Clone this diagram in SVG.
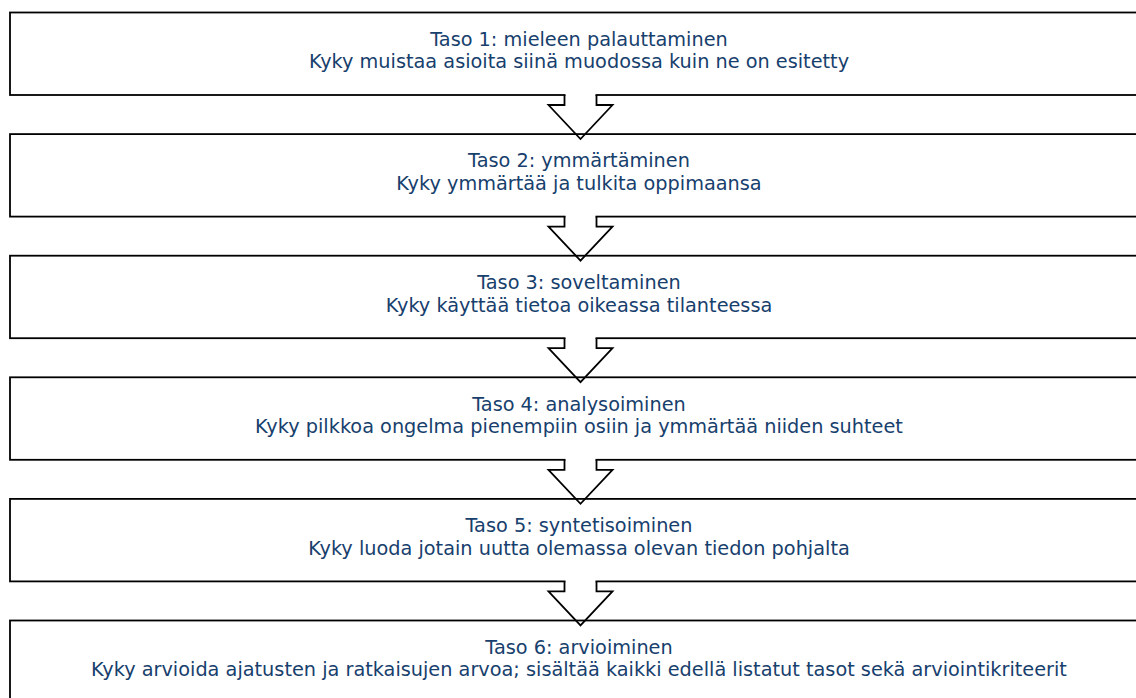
<svg xmlns="http://www.w3.org/2000/svg" width="1136" height="698" viewBox="0 0 1136 698">
<style>
.box{fill:none;stroke:#000;stroke-width:1.8}
.t{font-family:"DejaVu Sans",Verdana,sans-serif;font-size:19.3px;fill:#17406D;text-anchor:middle}
.ah{fill:#fff;stroke:none}
.ao{fill:none;stroke:#000;stroke-width:1.8;stroke-linejoin:miter}
</style>
<rect width="1136" height="698" fill="#fff"/>
<g id="n1"><rect class="box" x="10" y="12.5" width="1140" height="82.5"/><text class="t" x="579" y="45.7">Taso 1: mieleen palauttaminen</text><text class="t" x="579" y="68.3">Kyky muistaa asioita siinä muodossa kuin ne on esitetty</text></g>
<g id="n2"><rect class="box" x="10" y="134.1" width="1140" height="82.5"/><text class="t" x="579" y="167.3">Taso 2: ymmärtäminen</text><text class="t" x="579" y="189.9">Kyky ymmärtää ja tulkita oppimaansa</text></g>
<g id="n3"><rect class="box" x="10" y="255.7" width="1140" height="82.5"/><text class="t" x="579" y="288.9">Taso 3: soveltaminen</text><text class="t" x="579" y="311.5">Kyky käyttää tietoa oikeassa tilanteessa</text></g>
<g id="n4"><rect class="box" x="10" y="377.3" width="1140" height="82.5"/><text class="t" x="579" y="410.5">Taso 4: analysoiminen</text><text class="t" x="579" y="433.1">Kyky pilkkoa ongelma pienempiin osiin ja ymmärtää niiden suhteet</text></g>
<g id="n5"><rect class="box" x="10" y="498.9" width="1140" height="82.5"/><text class="t" x="579" y="532.1">Taso 5: syntetisoiminen</text><text class="t" x="579" y="554.7">Kyky luoda jotain uutta olemassa olevan tiedon pohjalta</text></g>
<g id="n6"><rect class="box" x="10" y="620.5" width="1140" height="82.5"/><text class="t" x="579" y="653.7">Taso 6: arvioiminen</text><text class="t" x="579" y="676.3">Kyky arvioida ajatusten ja ratkaisujen arvoa; sisältää kaikki edellä listatut tasot sekä arviointikriteerit</text></g>
<g id="connectors">
<g transform="translate(0,95)"><rect class="ah" x="565.5" y="-2" width="30" height="11"/><polyline class="ao" points="564.5,0 564.5,10 548.5,10 580.5,44 612.5,10 596.5,10 596.5,0"/></g>
<g transform="translate(0,216.6)"><rect class="ah" x="565.5" y="-2" width="30" height="11"/><polyline class="ao" points="564.5,0 564.5,10 548.5,10 580.5,44 612.5,10 596.5,10 596.5,0"/></g>
<g transform="translate(0,338.2)"><rect class="ah" x="565.5" y="-2" width="30" height="11"/><polyline class="ao" points="564.5,0 564.5,10 548.5,10 580.5,44 612.5,10 596.5,10 596.5,0"/></g>
<g transform="translate(0,459.8)"><rect class="ah" x="565.5" y="-2" width="30" height="11"/><polyline class="ao" points="564.5,0 564.5,10 548.5,10 580.5,44 612.5,10 596.5,10 596.5,0"/></g>
<g transform="translate(0,581.4)"><rect class="ah" x="565.5" y="-2" width="30" height="11"/><polyline class="ao" points="564.5,0 564.5,10 548.5,10 580.5,44 612.5,10 596.5,10 596.5,0"/></g>
</g>
</svg>
